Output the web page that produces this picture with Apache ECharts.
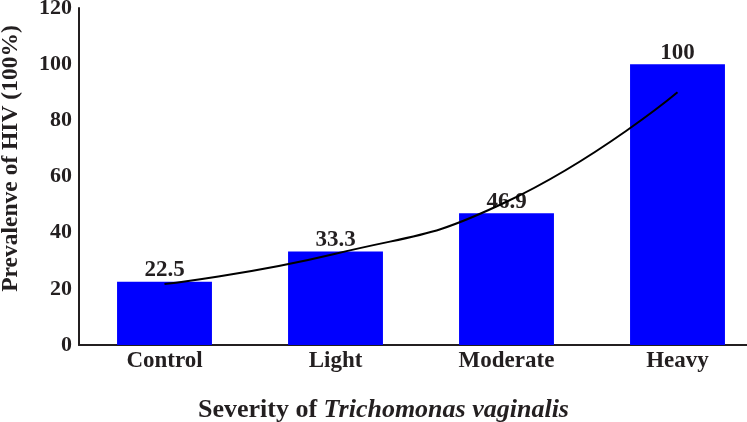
<!DOCTYPE html>
<html>
<head>
<meta charset="utf-8">
<script src="https://cdn.jsdelivr.net/npm/echarts@6/dist/echarts.min.js"></script>
<style>
  html, body { margin: 0; padding: 0; background: #fff; }
  #chart { width: 747px; height: 422px; }
</style>
</head>
<body>
<div id="chart"></div>
<script>
var categories = ['Control', 'Light', 'Moderate', 'Heavy'];
var prevalence = [22.5, 33.3, 46.9, 100];
// trend curve at each category centre
var trendValues = [21.7, 32.5, 51, 90];
var yTicks = [0, 20, 40, 60, 80, 100, 120];

var font = '"Liberation Serif", "Times New Roman", serif';
var ink = '#231f20';

var myChart = echarts.init(document.getElementById('chart'));

var option = {
    animation: false,
    title: {
        text: '{n|Severity of }{i|Trichomonas vaginalis}',
        left: 193,
        top: 392,
        textStyle: {
            rich: {
                n: { fontFamily: font, fontWeight: 'bold', fontSize: 26, color: ink },
                i: { fontFamily: font, fontWeight: 'bold', fontStyle: 'italic', fontSize: 26, color: ink }
            }
        }
    },
    grid: {
        left: 79,
        top: 8,
        width: 684,
        bottom: 77,
        containLabel: false,
        outerBoundsMode: 'none'
    },
    xAxis: {
        type: 'category',
        data: categories,
        axisLine: { lineStyle: { color: ink, width: 2 } },
        axisTick: { show: false },
        axisLabel: {
            fontFamily: font,
            fontWeight: 'bold',
            fontSize: 23,
            color: ink,
            margin: 5
        }
    },
    yAxis: {
        type: 'value',
        min: yTicks[0],
        max: yTicks[yTicks.length - 1],
        interval: 20,
        name: 'Prevalenve of HIV (100%)',
        nameLocation: 'middle',
        nameRotate: 90,
        nameGap: 56,
        nameTextStyle: {
            fontFamily: font,
            fontWeight: 'bold',
            fontSize: 23.5,
            color: ink,
            padding: [0, 0, 0, 36]
        },
        axisLine: { show: true, lineStyle: { color: ink, width: 2 } },
        axisTick: { show: false },
        splitLine: { show: false },
        axisLabel: {
            fontFamily: font,
            fontWeight: 'bold',
            fontSize: 22,
            color: ink,
            margin: 7
        }
    },
    series: [
        {
            type: 'bar',
            data: prevalence,
            barWidth: '55.5%',
            itemStyle: { color: '#0000ff' },
            label: {
                show: true,
                position: 'top',
                distance: 0,
                fontFamily: font,
                fontWeight: 'bold',
                fontSize: 23,
                color: ink
            }
        },
        {
            type: 'line',
            data: trendValues,
            smooth: true,
            showSymbol: false,
            symbol: 'none',
            lineStyle: { color: '#000', width: 2 },
            z: 5
        }
    ]
};

myChart.setOption(option);
window.addEventListener('resize', function () {
    myChart.resize();
});
</script>
</body>
</html>
